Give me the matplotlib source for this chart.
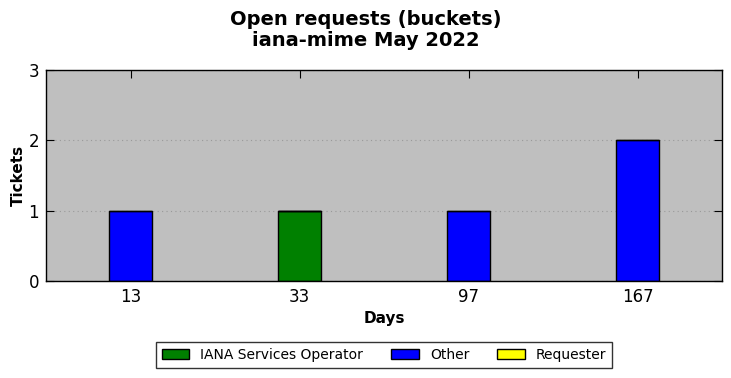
import matplotlib
matplotlib.use("Agg")
import matplotlib.pyplot as plt
import numpy as np

days = ["13", "33", "97", "167"]
iana = [0, 1, 0, 0]
other = [1, 0, 1, 2]
requester = [0, 0, 0, 0]

fig = plt.figure(figsize=(7.31, 3.78), dpi=100)
ax = fig.add_axes([46/731, 1 - 281/378, (722-46)/731, (281-70)/378])
ax.set_facecolor("#bfbfbf")
ax.set_axisbelow(True)
x = np.arange(len(days))
w = 0.25
iana_a = np.array(iana); other_a = np.array(other); req_a = np.array(requester)
ax.bar(x, iana_a, w, color="green", edgecolor="black", linewidth=1, label="IANA Services Operator")
ax.bar(x, other_a, w, bottom=iana_a, color="blue", edgecolor="black", linewidth=1, label="Other")
ax.bar(x, req_a, w, bottom=iana_a + other_a, color="yellow", edgecolor="black", linewidth=1, label="Requester")
ax.set_xlim(-0.5, 3.5)
ax.set_ylim(0, 3)
ax.set_yticks([0, 1, 2, 3])
ax.set_xticks(x)
ax.set_xticklabels(days)
ax.tick_params(direction="in", top=True, right=True, labelsize=12, length=6, pad=5)
ax.grid(axis="y", color="#999999", linestyle=(0, (1, 3)), linewidth=0.8)
for s in ax.spines.values():
    s.set_linewidth(1)
ax.set_xlabel("Days", fontsize=11, fontweight="bold")
ax.set_ylabel("Tickets", fontsize=11, fontweight="bold", labelpad=2)
fig.text(0.5, 1 - 30/378, "Open requests (buckets)\niana-mime May 2022", ha="center", va="center",
         fontsize=14, fontweight="bold", linespacing=1.15)
leg = fig.legend(loc="center", bbox_to_anchor=(384/731, 1 - 355/378), ncol=3, fontsize=10,
                 frameon=True, fancybox=False, edgecolor="black", handlelength=2, handleheight=0.7,
                 columnspacing=2.0, borderpad=0.4)
leg.get_frame().set_linewidth(1)
fig.savefig("out.png", dpi=100)
